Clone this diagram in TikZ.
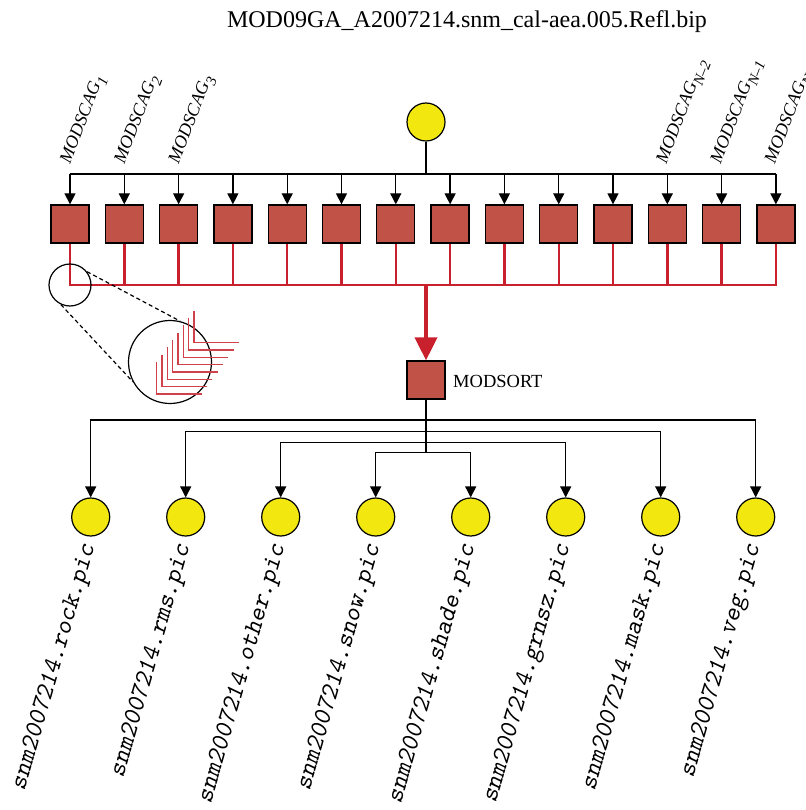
\documentclass[tikz,border=0pt]{standalone}
\usepackage{fontspec}
\setmainfont{Liberation Serif}
\usetikzlibrary{arrows.meta}
\definecolor{boxred}{RGB}{192,82,72}
\definecolor{linered}{RGB}{200,32,44}
\definecolor{ylw}{RGB}{242,232,16}
\newcommand\mysub[1]{\raisebox{-0.3em}{\fontsize{15}{15}\selectfont #1}}
\tikzset{
  modbox/.style={draw=black, line width=1.3pt, fill=boxred, minimum size=38pt, inner sep=0pt},
  picnode/.style={circle, draw=black, line width=1.2pt, fill=ylw, minimum size=38pt, inner sep=0pt},
  blk/.style={draw=black, line width=1.3pt},
  blkarrow/.style={blk, -{Triangle[length=11pt,width=11pt]}},
  redln/.style={draw=linered, line width=2.4pt},
  bigarrow/.style={draw=linered, fill=linered, line width=4pt, -{Triangle[length=23pt,width=22pt]}},
  topl/.style={rotate=69, anchor=base west, inner sep=0pt, font=\fontsize{18}{18}\selectfont\itshape},
  botl/.style={rotate=74, anchor=east, inner sep=0pt, font=\fontsize{25.5}{25.5}\selectfont\ttfamily\slshape},
  zoomc/.style={circle, draw=black, line width=1.2pt, inner sep=0pt},
  chev/.style={draw=linered!85, line width=1.3pt},
}
\begin{document}
\begin{tikzpicture}[x=1pt,y=-1pt]
\useasboundingbox (0,0) rectangle (805,810);
% title
\node[font=\fontsize{24}{24}\selectfont, anchor=base, inner sep=0pt] (title) at (467,28) {MOD09GA\_A2007214.snm\_cal-aea.005.Refl.bip};
% top source
\node[picnode] (src) at (426,122) {};
% boxes
\foreach \i in {1,...,14} \node[modbox] (m\i) at ({70+(\i-1)*54.3},224) {};
\coordinate (tb) at (426,174);
\draw[blk] (src.south) -- (tb);
\draw[blk] (m1.north |- tb) -- (m14.north |- tb);
\foreach \i in {1,...,14} \draw[blkarrow] (m\i.north |- tb) -- (m\i.north);
% top labels
\node[topl] (l1) at (70,165) {MODSCAG\mysub{1}};
\node[topl] (l2) at ({70+54.3},165) {MODSCAG\mysub{2}};
\node[topl] (l3) at ({70+2*54.3},165) {MODSCAG\mysub{3}};
\node[topl] (l12) at ({69+11*54.3},165) {MODSCAG\mysub{N–2}};
\node[topl] (l13) at ({69+12*54.3},165) {MODSCAG\mysub{N–1}};
\node[topl] (l14) at ({69+13*54.3},165) {MODSCAG\mysub{N}};
% red collectors
\coordinate (rb) at (426,285);
\draw[redln, line width=2.7pt] (m1.south) -- (m1.south |- rb) -- (m14.south |- rb) -- (m14.south);
\foreach \i in {2,...,13} \draw[redln] (m\i.south) -- (m\i.south |- rb);
% sort
\node[modbox] (sort) at (426,380) {};
\node[anchor=west, inner sep=0pt, font=\fontsize{18.5}{18.5}\selectfont] (sortlab) at (453,381) {MODSORT};
\draw[bigarrow] (rb) -- (sort.north);
% outputs
\foreach \i/\n in {0/rock,1/rms,2/other,3/snow,4/shade,5/grnsz,6/mask,7/veg} {
  \node[picnode] (o\i) at ({90.7+95*\i},517) {};
  \node[botl] (t\i) at ({90.7+95*\i-1},545) {snm2007214.\n.pic};
}
\coordinate (s1) at (426,420);
\coordinate (s2) at (426,431.5);
\coordinate (s3) at (426,442.3);
\coordinate (s4) at (426,452.7);
\draw[blk] (sort.south) -- (s4);
\draw[blkarrow] (s1) -| (o0.north);
\draw[blkarrow] (s1) -| (o7.north);
\draw[blkarrow] (s2) -| (o1.north);
\draw[blkarrow] (s2) -| (o6.north);
\draw[blkarrow] (s3) -| (o2.north);
\draw[blkarrow] (s3) -| (o5.north);
\draw[blkarrow] (s4) -| (o3.north);
\draw[blkarrow] (s4) -| (o4.north);
% zoom inset
\node[zoomc, minimum size=42pt] (zs) at (70,285) {};
\node[zoomc, minimum size=83pt] (zb) at (170,362) {};
\draw[black, line width=1.2pt, dash pattern=on 4pt off 3pt] (zs.38) -- (zb.76);
\draw[black, line width=1.2pt, dash pattern=on 4pt off 3pt] (zs.245) -- (zb.208);
\foreach \k in {0,...,7}
  \draw[chev] ({194-5.33*\k},{310.7+7.33*\k}) -- ({194-5.33*\k},{342.7+7.33*\k}) -- ({239-5.33*\k},{342.7+7.33*\k});
\end{tikzpicture}
\end{document}
